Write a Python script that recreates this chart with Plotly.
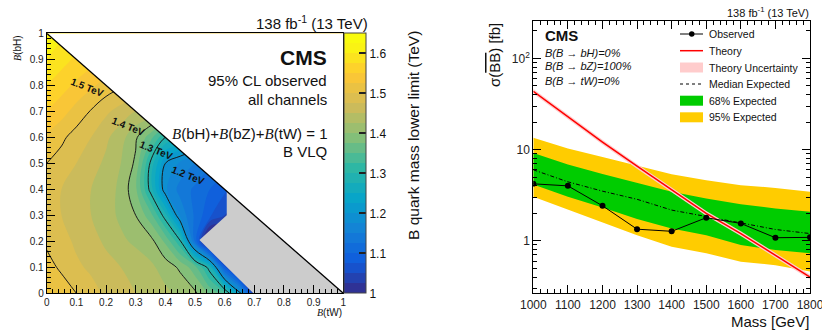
import plotly.graph_objects as go

W, H = 822, 331
FONT = "Liberation Sans, Arial, sans-serif"

# ---------------- Left panel data: B quark mass lower limit (TeV) ----------------
tw_grid = [0.0, 0.05, 0.1, 0.15, 0.2, 0.25, 0.3, 0.35, 0.4, 0.45, 0.5,
           0.55, 0.6, 0.65, 0.7, 0.75, 0.8, 0.85, 0.9, 0.95, 1.0]
bh_grid = [0.0, 0.1, 0.2, 0.3, 0.4, 0.5, 0.6, 0.7, 0.8, 0.9, 1.0]

limit_bh00 = [1.53, 1.515, 1.50, 1.485, 1.47, 1.46, 1.45, 1.44, 1.43, 1.42, 1.405,
              1.37, 1.34, 1.22, 1.02, 0.95, 0.95, 0.95, 0.95, 0.95, 0.95]
limit_bh01 = [1.51, 1.495, 1.48, 1.47, 1.46, 1.45, 1.44, 1.43, 1.415, 1.395, 1.36,
              1.285, 1.08, 0.95, 0.95, 0.95, 0.95, 0.95, 0.95, 0.95, 0.95]
limit_bh02 = [1.495, 1.485, 1.47, 1.46, 1.445, 1.43, 1.42, 1.41, 1.37, 1.305, 1.12,
              0.95, 0.95, 0.95, 0.95, 0.95, 0.95, 0.95, 0.95, 0.95, 0.95]
limit_bh03 = [1.485, 1.475, 1.46, 1.45, 1.435, 1.42, 1.40, 1.36, 1.285, 1.17, 1.12,
              1.08, 1.05, 0.95, 0.95, 0.95, 0.95, 0.95, 0.95, 0.95, 0.95]
limit_bh04 = [1.49, 1.475, 1.46, 1.45, 1.435, 1.42, 1.38, 1.29, 1.18, 1.14, 1.12,
              1.10, 1.08, 1.06, 1.05, 1.05, 1.05, 1.05, 1.05, 1.05, 1.05]
limit_bh05 = [1.50, 1.49, 1.475, 1.46, 1.445, 1.425, 1.395, 1.295, 1.20, 1.17, 1.15,
              1.13, 1.12, 1.10, 1.10, 1.10, 1.10, 1.10, 1.10, 1.10, 1.10]
limit_bh06 = [1.52, 1.505, 1.49, 1.475, 1.455, 1.435, 1.405, 1.36, 1.30, 1.28, 1.25,
              1.22, 1.20, 1.20, 1.20, 1.20, 1.20, 1.20, 1.20, 1.20, 1.20]
limit_bh07 = [1.55, 1.535, 1.515, 1.498, 1.48, 1.465, 1.45, 1.45, 1.43, 1.41, 1.39,
              1.37, 1.35, 1.35, 1.35, 1.35, 1.35, 1.35, 1.35, 1.35, 1.35]
limit_bh08 = [1.575, 1.56, 1.545, 1.53, 1.515, 1.505, 1.50, 1.49, 1.48, 1.47, 1.46,
              1.45, 1.45, 1.45, 1.45, 1.45, 1.45, 1.45, 1.45, 1.45, 1.45]
limit_bh09 = [1.60, 1.585, 1.57, 1.56, 1.55, 1.54, 1.53, 1.52, 1.51, 1.50, 1.50,
              1.50, 1.50, 1.50, 1.50, 1.50, 1.50, 1.50, 1.50, 1.50, 1.50]
limit_bh10 = [1.62, 1.605, 1.59, 1.58, 1.57, 1.56, 1.55, 1.55, 1.55, 1.55, 1.55,
              1.55, 1.55, 1.55, 1.55, 1.55, 1.55, 1.55, 1.55, 1.55, 1.55]
limit_grid = [limit_bh00, limit_bh01, limit_bh02, limit_bh03, limit_bh04, limit_bh05,
              limit_bh06, limit_bh07, limit_bh08, limit_bh09, limit_bh10]

# region without a limit above 1 TeV (grey)
gray_tw = [0.515, 0.607, 0.607, 1.0, 0.697]
gray_bh = [0.205, 0.300, 0.393, 0.0, 0.0]

# physical boundary B(bH)+B(tW)=1 and the unphysical region above it
edge_tw = [0.0, 1.0]
edge_bh = [1.0, 0.0]
unphys_tw = [0.0, 1.0, 1.0, 0.0]
unphys_bh = [1.0, 0.0, 1.0, 1.0]

contour_labels = ["1.5 TeV", "1.4 TeV", "1.3 TeV", "1.2 TeV"]
contour_label_tw = [0.137, 0.275, 0.371, 0.478]
contour_label_bh = [0.792, 0.641, 0.551, 0.455]

cbar_tickvals = [1.0, 1.1, 1.2, 1.3, 1.4, 1.5, 1.6]
cbar_ticktext = ["1", "1.1", "1.2", "1.3", "1.4", "1.5", "1.6"]

# ---------------- Right panel data: cross section limits (fb) ----------------
mass = [1000, 1100, 1200, 1300, 1400, 1500, 1600, 1700, 1800]
observed = [4.21, 4.0, 2.42, 1.34, 1.27, 1.79, 1.55, 1.08, 1.09]
expected_median = [6.0, 4.43, 3.5, 2.85, 2.17, 1.83, 1.57, 1.33, 1.2]
expected_68_lo = [4.14, 3.03, 2.32, 1.73, 1.36, 1.15, 0.90, 0.79, 0.73]
expected_68_hi = [9.2, 6.85, 5.4, 4.3, 3.44, 2.91, 2.52, 2.26, 2.08]
expected_95_lo = [3.03, 2.2, 1.61, 1.15, 0.86, 0.73, 0.59, 0.54, 0.46]
expected_95_hi = [13.5, 10.3, 8.3, 6.7, 5.37, 4.6, 4.07, 3.8, 3.44]
theory = [43.5, 22.8, 12.1, 6.57, 3.6, 2.0, 1.2, 0.70, 0.40]
theory_hi = [46.1, 24.2, 12.8, 6.96, 3.82, 2.12, 1.27, 0.742, 0.424]
theory_lo = [40.9, 21.4, 11.4, 6.18, 3.38, 1.88, 1.13, 0.658, 0.376]

legend_labels = ["Observed", "Theory", "Theory Uncertainty", "Median Expected",
                 "68% Expected", "95% Expected"]

# ---------------- styling helpers ----------------
def px(x):
    return x / W

def py(y):
    return 1 - y / H

bird_stops = [0.0, 0.125, 0.25, 0.375, 0.5, 0.625, 0.75, 0.875, 1.0]
bird_r = [0.2082, 0.0592, 0.0780, 0.0232, 0.1802, 0.5301, 0.8186, 0.9956, 0.9764]
bird_g = [0.1664, 0.3599, 0.5041, 0.6419, 0.7178, 0.7492, 0.7328, 0.7862, 0.9832]
bird_b = [0.5293, 0.8684, 0.8385, 0.7914, 0.6425, 0.4662, 0.3499, 0.1968, 0.0539]
bird = [[s, "rgb(%d,%d,%d)" % (round(r * 255), round(g * 255), round(b * 255))]
        for s, r, g, b in zip(bird_stops, bird_r, bird_g, bird_b)]

GREEN = "#00cc00"
YELLOW = "#ffcc00"
PINK = "#ffcccc"
RED = "#ff0000"
GREYFILL = "#cccccc"

fig = go.Figure()

# ---- left panel ----
fig.add_trace(go.Contour(
    x=tw_grid, y=bh_grid, z=limit_grid,
    colorscale=bird, zmin=1.0, zmax=1.65, autocontour=False,
    contours=dict(start=1.0, end=1.65, size=0.025, coloring="fill", showlines=False),
    line=dict(width=0), hoverinfo="skip",
    colorbar=dict(
        x=px(344), xanchor="left", xpad=0, ypad=0,
        y=py(293.3), yanchor="bottom", len=260 / H, lenmode="fraction",
        thickness=22, thicknessmode="pixels",
        outlinewidth=1, outlinecolor="#444",
        tickvals=cbar_tickvals, ticktext=cbar_ticktext,
        ticks="inside", ticklen=7, tickcolor="#222", tickwidth=1.5,
        tickfont=dict(family=FONT, size=12, color="#111"),
    ),
    xaxis="x", yaxis="y",
))
fig.add_trace(go.Contour(
    x=tw_grid, y=bh_grid, z=limit_grid, autocontour=False,
    contours=dict(start=1.2, end=1.51, size=0.1, coloring="none"),
    line=dict(color="#1a1a1a", width=1), showscale=False, hoverinfo="skip",
    xaxis="x", yaxis="y",
))
fig.add_trace(go.Scatter(x=gray_tw, y=gray_bh, fill="toself", fillcolor=GREYFILL,
                         mode="lines", line=dict(width=0), hoverinfo="skip",
                         showlegend=False, xaxis="x", yaxis="y"))
fig.add_trace(go.Scatter(x=unphys_tw, y=unphys_bh, fill="toself", fillcolor="white",
                         mode="lines", line=dict(width=0), hoverinfo="skip",
                         showlegend=False, xaxis="x", yaxis="y"))
fig.add_trace(go.Scatter(x=edge_tw, y=edge_bh, mode="lines",
                         line=dict(color="black", width=1.3), hoverinfo="skip",
                         showlegend=False, xaxis="x", yaxis="y"))

# ---- right panel ----
def band(lo, hi, color):
    fig.add_trace(go.Scatter(x=mass, y=lo, mode="lines", line=dict(width=0),
                             showlegend=False, hoverinfo="skip", xaxis="x2", yaxis="y2"))
    fig.add_trace(go.Scatter(x=mass, y=hi, mode="lines", line=dict(width=0),
                             fill="tonexty", fillcolor=color, showlegend=False,
                             hoverinfo="skip", xaxis="x2", yaxis="y2"))

band(expected_95_lo, expected_95_hi, YELLOW)
band(expected_68_lo, expected_68_hi, GREEN)
fig.add_trace(go.Scatter(x=mass, y=expected_median, mode="lines",
                         line=dict(color="black", width=1, dash="4px,2px,1px,2px"),
                         showlegend=False, xaxis="x2", yaxis="y2"))
band(theory_lo, theory_hi, PINK)
fig.add_trace(go.Scatter(x=mass, y=theory, mode="lines", line=dict(color=RED, width=1.5),
                         showlegend=False, xaxis="x2", yaxis="y2"))
fig.add_trace(go.Scatter(x=mass, y=observed, mode="lines+markers",
                         line=dict(color="black", width=1),
                         marker=dict(color="black", size=6, symbol="circle"),
                         showlegend=False, xaxis="x2", yaxis="y2"))

axis_common = dict(showline=True, linecolor="black", linewidth=1, showgrid=False,
                   zeroline=False, ticks="inside", tickcolor="black", automargin=False,
                   ticklabeloverflow="allow")

fig.update_layout(
    width=W, height=H, margin=dict(l=0, r=0, t=0, b=0, autoexpand=False),
    paper_bgcolor="white", plot_bgcolor="white", showlegend=False,
    font=dict(family=FONT, color="#111"),
    xaxis=dict(axis_common, domain=[px(46.7), px(343.3)], range=[0, 1], dtick=0.1,
               tick0=0, ticklen=8, mirror=True, anchor="y",
               minor=dict(dtick=0.02, ticks="inside", ticklen=4, tickcolor="black"),
               tickfont=dict(size=10, family=FONT, color="#222")),
    yaxis=dict(axis_common, domain=[py(293.3), py(33.3)], range=[0, 1], dtick=0.1,
               tick0=0, ticklen=8, mirror=True, anchor="x",
               minor=dict(dtick=0.02, ticks="inside", ticklen=4, tickcolor="black"),
               tickfont=dict(size=10, family=FONT, color="#222")),
    xaxis2=dict(axis_common, domain=[px(533.3), px(810)], range=[1000, 1800], dtick=100,
                ticklen=8, mirror="allticks", anchor="y2",
                minor=dict(dtick=20, ticks="inside", ticklen=4, tickcolor="black"),
                tickfont=dict(size=12, family=FONT, color="#222")),
    yaxis2=dict(axis_common, type="log", domain=[py(293.3), py(21)],
                range=[-0.576, 2.41], tickvals=[1, 10, 100],
                ticktext=["1", "10", "10<sup>2</sup>"], ticklen=8,
                mirror="allticks", anchor="x2",
                minor=dict(dtick="D1", ticks="inside", ticklen=4, tickcolor="black"),
                tickfont=dict(size=12, family=FONT, color="#222")),
)

annotations = []

def ann(text, x, y, size, xanchor="center", yanchor="middle", angle=0,
        color="#111"):
    annotations.append(dict(text=text, x=px(x), y=py(y), xref="paper", yref="paper",
                            xanchor=xanchor, yanchor=yanchor, showarrow=False,
                            textangle=angle,
                            font=dict(family=FONT, size=size, color=color)))

# left panel texts
ann("138 fb<sup>-1</sup> (13 TeV)", 370, 22, 15, xanchor="right")
ann("<b>CMS</b>", 329, 57, 21, xanchor="right")
ann("95% CL observed", 329, 81, 15, xanchor="right")
ann("all channels", 329, 99, 15, xanchor="right")
B = "<span style=\"font-family:'Liberation Serif'\"><i>B</i></span>"
ann(B + "(bH)+" + B + "(bZ)+" + B + "(tW) = 1", 329, 133, 15, xanchor="right")
ann("B VLQ", 329, 151, 15, xanchor="right")
ann(B + "(tW)", 343.5, 312, 10, xanchor="right")
ann(B + "(bH)", 18, 33, 10, yanchor="top", angle=-90)
ann("B quark mass lower limit (TeV)", 413, 136, 15.5, angle=-90)

for lab, x, y in zip(contour_labels, contour_label_tw, contour_label_bh):
    annotations.append(dict(text="<b>" + lab + "</b>", x=x, y=y, xref="x", yref="y",
                            showarrow=False, textangle=22,
                            font=dict(family=FONT, size=10, color="#111")))

# right panel texts
ann("138 fb<sup>-1</sup> (13 TeV)", 811, 12, 11, xanchor="right")
ann("<b>CMS</b>", 543, 35.5, 15, xanchor="left")
ann("<i>B(B → bH)=0%</i>", 543, 52.5, 11, xanchor="left")
ann("<i>B(B → bZ)=100%</i>", 543, 66.5, 11, xanchor="left")
ann("<i>B(B → tW)=0%</i>", 543, 80.5, 11, xanchor="left")
ann("σ(<span style=\"text-decoration:overline\">BB</span>) [fb]", 494, 21, 15,
    yanchor="top", angle=-90)
ann("Mass [GeV]", 811, 321, 15, xanchor="right")

# legend (right panel)
leg_y = [34, 50.7, 67.5, 84, 100.7, 117.3]
for lab, y in zip(legend_labels, leg_y):
    ann(lab, 707, y, 10.5, xanchor="left")

shapes = []
def hline(y, color, width, dash="solid"):
    shapes.append(dict(type="line", xref="paper", yref="paper", x0=px(680), x1=px(703),
                       y0=py(y), y1=py(y), line=dict(color=color, width=width, dash=dash)))

def rect(y, color):
    shapes.append(dict(type="rect", xref="paper", yref="paper", x0=px(680), x1=px(703),
                       y0=py(y + 5), y1=py(y - 5), fillcolor=color, line=dict(width=0)))

hline(leg_y[0], "black", 1)
shapes.append(dict(type="circle", xref="paper", yref="paper", x0=px(689), x1=px(694.5),
                   y0=py(leg_y[0] + 2.75), y1=py(leg_y[0] - 2.75), fillcolor="black",
                   line=dict(width=0)))
hline(leg_y[1], RED, 1.5)
rect(leg_y[2], PINK)
hline(leg_y[3], "black", 1, "dot")
rect(leg_y[4], GREEN)
rect(leg_y[5], YELLOW)

fig.update_layout(annotations=annotations, shapes=shapes)
fig.write_html("out.html", config={"displayModeBar": False},
               post_script="document.body.style.margin='0';"
                           "document.body.style.overflow='hidden';")
